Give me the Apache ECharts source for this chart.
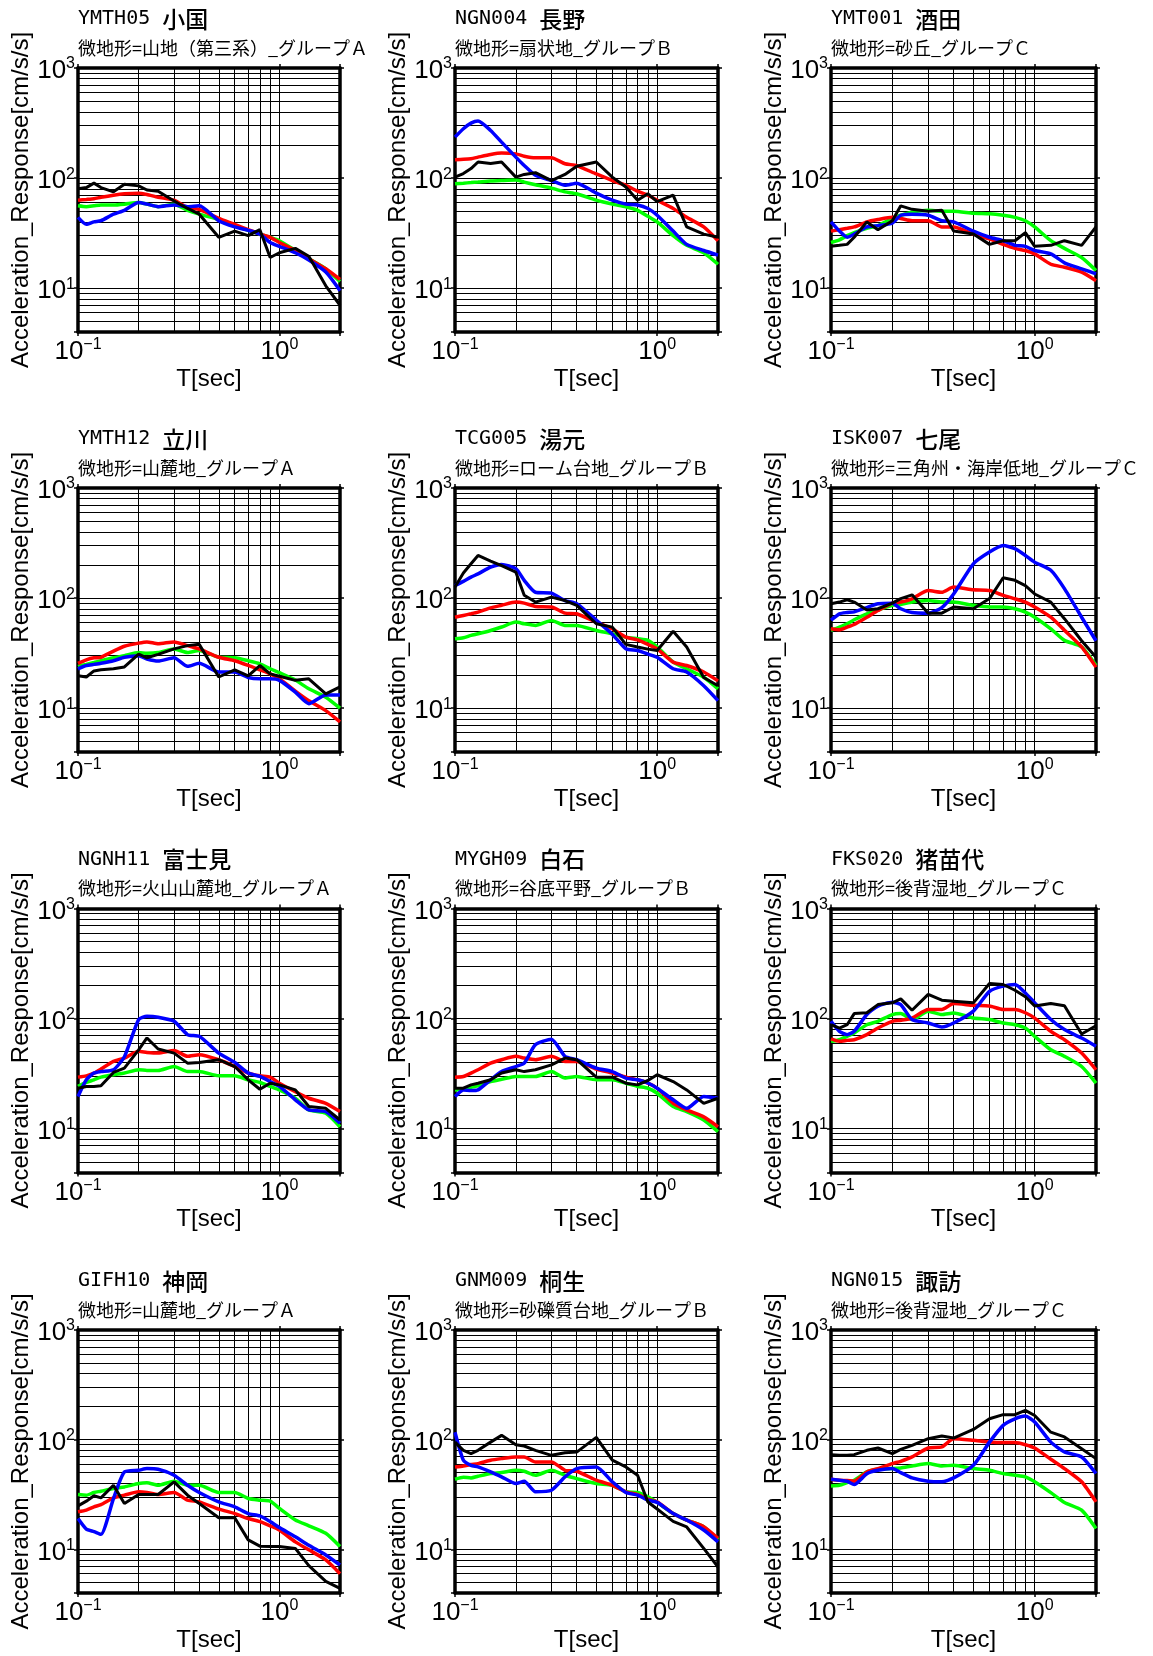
<!DOCTYPE html>
<html>
<head>
<meta charset="utf-8">
<title>Acceleration Response</title>
<script src="https://cdn.jsdelivr.net/npm/echarts@6/dist/echarts.min.js"></script>
<style>
html, body { margin: 0; padding: 0; background: #fff; }
#main { width: 1153px; height: 1656px; }
</style>
</head>
<body>
<div id="main"></div>
<script>
// 周期 T[sec]
var periods = [0.1, 0.11, 0.12, 0.13, 0.15, 0.17, 0.2, 0.22, 0.25, 0.3, 0.35, 0.4, 0.5, 0.6, 0.7, 0.8, 0.9, 1.0, 1.2, 1.4, 1.7, 2.0];

// 目盛・グリッド
var xTickValues = [0.1, 1];
var yTickValues = [10, 100, 1000];
var xGridValues = [0.2, 0.3, 0.4, 0.5, 0.6, 0.7, 0.8, 0.9, 1];
var yGridValues = [5, 6, 7, 8, 9, 10, 20, 30, 40, 50, 60, 70, 80, 90, 100, 200, 300, 400, 500, 600, 700, 800, 900];

// 観測点
var stationCodes = ['YMTH05', 'NGN004', 'YMT001', 'YMTH12', 'TCG005', 'ISK007', 'NGNH11', 'MYGH09', 'FKS020', 'GIFH10', 'GNM009', 'NGN015'];
var stationNames = ['小国', '長野', '酒田', '立川', '湯元', '七尾', '富士見', '白石', '猪苗代', '神岡', '桐生', '諏訪'];
var landforms = [
    '微地形=山地（第三系）_グループＡ', '微地形=扇状地_グループＢ', '微地形=砂丘_グループＣ',
    '微地形=山麓地_グループＡ', '微地形=ローム台地_グループＢ', '微地形=三角州・海岸低地_グループＣ',
    '微地形=火山山麓地_グループＡ', '微地形=谷底平野_グループＢ', '微地形=後背湿地_グループＣ',
    '微地形=山麓地_グループＡ', '微地形=砂礫質台地_グループＢ', '微地形=後背湿地_グループＣ'
];

// 加速度応答 [cm/s/s]
var ymth05Black = [80, 82, 90, 82, 75, 88, 85, 78, 76, 62, 53, 47, 29, 33, 30, 34, 19, 21, 23, 19.5, 10.5, 7];
var ymth05Blue = [44, 38, 40, 41, 47, 51, 60, 58, 55, 57, 55, 56, 41, 36, 33.5, 31, 26, 24, 21, 18, 14, 9.5];
var ymth05Green = [56, 55, 56, 57, 57, 58, 60, 58, 55, 58, 51, 47, 42, 37, 33.5, 31, 29, 27, 22, 18.5, 15, 11.5];
var ymth05Red = [63, 64, 65, 67, 70, 72, 73, 71, 67, 63, 54, 52, 43, 38, 34, 31, 29, 26, 22, 18.5, 15, 12];

var ngn004Black = [102, 110, 122, 140, 136, 140, 102, 108, 112, 95, 108, 128, 140, 102, 83, 63, 72, 61, 70, 36, 31, 29];
var ngn004Blue = [236, 281, 316, 330, 271, 212, 155, 130, 106, 95, 86, 90, 73, 63, 58, 57, 53, 46, 33, 25, 22, 20];
var ngn004Green = [89, 90, 91, 92, 94, 95, 96, 92, 87, 81, 75, 72, 63, 58, 55, 51, 45, 40, 30, 24.5, 21, 16.5];
var ngn004Red = [147, 148, 150, 155, 164, 169, 166, 158, 153, 153, 135, 130, 109, 95, 86, 76, 70, 63, 53, 44, 36, 27];

var ymt001Black = [24, 24.5, 25, 29, 40, 34, 41, 56, 52, 50, 51, 33, 31, 25, 27, 27, 32, 24, 24.5, 27, 24.5, 36];
var ymt001Blue = [40, 33, 29, 31, 36, 37, 39, 46, 47, 46, 41, 40, 33, 29, 27, 24.5, 24, 22, 20.5, 17, 15, 13.5];
var ymt001Green = [26, 27.5, 30, 32, 35, 37, 43, 46, 49, 51, 50, 50, 48, 47.5, 46, 44, 41, 36, 27, 23, 19, 14.5];
var ymt001Red = [33, 34, 35, 36, 40, 42, 44, 43, 41, 41, 36, 36, 31, 28, 25, 23, 22, 20.5, 16.5, 15.5, 14, 11.7];

var ymth12Black = [19.7, 19.2, 21.8, 22.3, 22.8, 23.7, 31, 28.7, 30.8, 34.6, 37, 38, 19.2, 22.3, 19.7, 24.4, 20.5, 19.5, 17.9, 18.5, 13.5, 15.6];
var ymth12Blue = [22.8, 24.4, 25, 25.6, 27, 29, 30, 28, 26.8, 28.7, 24, 25.6, 21.3, 21.3, 19, 18.5, 18.5, 17.9, 14, 11, 13.2, 13.2];
var ymth12Green = [24, 25, 26, 27, 28.7, 30, 32, 31.5, 32, 34.5, 32, 33.4, 29, 28.7, 27, 25.3, 22.8, 21, 18, 15, 12.6, 10];
var ymth12Red = [25.5, 27.5, 28.7, 29, 33, 36.5, 39, 40, 38.5, 40, 37, 34.5, 29, 27, 24.5, 22.3, 20.5, 18.5, 14.3, 11.7, 9.5, 7.5];

var tcg005Black = [126, 169, 205, 244, 217, 197, 172, 106, 92, 102, 95, 86, 58.5, 54.5, 38, 36, 34.4, 33.4, 50, 36, 19, 16];
var tcg005Blue = [130, 142, 155, 166, 191, 202, 185, 145, 113, 111, 95, 89, 63, 47, 34.6, 33.4, 31, 29, 22.8, 21.3, 16, 11.7];
var tcg005Green = [42.7, 43.6, 45.8, 47.4, 50.8, 54.6, 60.5, 58.5, 56.5, 62.7, 56.5, 56.5, 50.8, 47.4, 44.2, 42.7, 41.3, 36, 26.2, 22.8, 19.1, 15];
var tcg005Red = [67, 69.6, 72, 74.6, 81.6, 86, 92, 90, 84, 83, 73, 72, 60.5, 52.6, 44.2, 41.8, 38, 34.6, 26.2, 24.4, 21.3, 17.7];

var isk007Black = [89, 92, 96.6, 92, 78, 80, 90, 99, 107, 73, 73, 83, 80, 99, 153, 145, 130, 109, 92, 65, 41, 29];
var isk007Blue = [63, 72, 74, 75, 82, 89, 90, 80, 74, 73, 82, 109, 205, 262, 300, 281, 244, 212, 179, 122, 67, 41];
var isk007Green = [51, 54.6, 58.5, 63.5, 72, 78, 86, 87.5, 92, 95, 92, 92, 86, 83, 83, 80, 74.6, 67, 52.6, 41.3, 36, 24.4];
var isk007Red = [52.6, 51.6, 54.6, 57.6, 67, 77, 90, 92, 98.6, 117, 113, 126, 119, 117, 106, 98.6, 92, 83, 67, 51, 36, 23.6];

var ngnh11Black = [23.3, 24.2, 24.2, 24.5, 32.4, 35.5, 52, 66.7, 53, 48.6, 39.4, 40, 42.3, 36.7, 27.8, 22.8, 25.9, 25, 22.5, 15.9, 15.3, 12];
var ngnh11Blue = [19.6, 27.8, 32, 33, 34.3, 45, 98, 105, 103, 94.5, 71.5, 69, 48.6, 40, 32, 29.8, 26.8, 24.2, 18.3, 14.8, 14.3, 11.2];
var ngnh11Green = [24.2, 26.3, 27.8, 29.4, 30.9, 32, 34.3, 33.8, 33.8, 36.7, 33.1, 33.1, 30.2, 30.2, 27.8, 26.3, 24.2, 22.5, 18.9, 14.8, 13.8, 10.4];
var ngnh11Red = [29.4, 30.2, 32, 34.8, 40.8, 43.8, 50.4, 49.3, 48.6, 51.4, 45.4, 47, 42.3, 36.7, 32, 30.2, 29.4, 25.9, 21.7, 18.9, 17, 14.3];

var mygh09Black = [23.3, 23.3, 25, 25.9, 27.8, 32, 34.3, 33, 34.3, 38, 43.8, 42.3, 29.4, 29.4, 25.9, 25, 27.4, 30.9, 26.8, 22.5, 17, 18.9];
var mygh09Blue = [19.6, 22.5, 22.2, 22.5, 27.8, 33, 36.7, 39.4, 58, 65, 45.4, 42.3, 35.5, 33, 28.8, 27.8, 26, 23.3, 18.3, 15.3, 19.6, 18.9];
var mygh09Green = [22.5, 22.8, 23.8, 24.5, 26.8, 28.1, 29.8, 29.8, 29.8, 33, 28.8, 29.8, 27.8, 27.8, 25.9, 24.2, 23.3, 21, 15.9, 14.3, 12, 9.4];
var mygh09Red = [29.4, 29.8, 32, 34.3, 39.4, 42.3, 45.4, 43.8, 42.3, 45.4, 40.8, 40.8, 34.8, 32, 29.4, 27.8, 25.9, 23.3, 17, 14.8, 12.8, 10.4];

var fks020Black = [88, 82, 88, 111, 113, 134, 139, 151, 119, 166, 147, 144, 139, 208, 204, 181, 158, 130, 137, 131, 72.5, 86];
var fks020Blue = [94.5, 76.6, 71.5, 76.6, 109, 130, 141, 134, 98, 91.3, 84, 91.3, 117, 177, 197, 204, 171, 139, 98, 79.4, 66.6, 56];
var fks020Green = [62.1, 64.3, 69, 74, 88, 94.5, 108.8, 111, 98, 116.7, 108.8, 112.6, 101.4, 98, 91.3, 88, 82.2, 69, 52.1, 45.4, 36.7, 25.9];
var fks020Red = [65.3, 62.1, 63.4, 64.3, 71.5, 82.2, 94.5, 96.6, 101, 121, 121, 137, 132, 130, 121, 121, 113, 101, 76.6, 64.3, 48.6, 34.3];

var gifh10Black = [24.9, 27.5, 30.8, 29.5, 38.4, 26.2, 31.6, 31.6, 31.6, 41.2, 31.2, 26.2, 19.4, 19.4, 12.2, 10.7, 10.6, 10.6, 10.2, 7.1, 5.1, 4.4];
var gifh10Blue = [19.1, 15.3, 14.5, 13.7, 29, 50.8, 52.6, 54.5, 53.7, 47.4, 38.4, 33, 27.1, 24.4, 21.2, 20.2, 17.9, 15.8, 13, 10.9, 8.9, 7.2];
var gifh10Green = [31.6, 31.2, 33, 33.9, 35.9, 37.1, 39.8, 40.4, 38.4, 41.8, 38.4, 38.4, 33, 33, 29.1, 28.1, 27.5, 23.6, 18.5, 16.4, 14, 10.6];
var gifh10Red = [22, 22.8, 24.4, 25.6, 29.5, 31.2, 33.5, 33, 31.6, 33, 28.1, 27.1, 23.3, 21.2, 19.1, 17.9, 16.4, 15, 11.7, 9.9, 8, 6];

var gnm009Black = [95, 80, 74.6, 80, 95, 109.5, 90, 87.6, 80, 72, 76, 77, 105, 65, 56.4, 47.4, 27, 23.3, 18, 16, 10.2, 6.9];
var gnm009Blue = [117, 65, 58.4, 56.4, 50.8, 45.8, 39.8, 41.8, 33.5, 34.6, 45.8, 54.5, 56.4, 41.3, 33, 31.2, 28.1, 26.8, 21.2, 18.5, 15, 11.7];
var gnm009Green = [43.6, 45.5, 44.8, 46.4, 49.1, 50.1, 52.6, 51.5, 47.4, 52.6, 47.4, 44.2, 39.8, 38.4, 33.5, 33, 30.1, 26.8, 21.2, 18.5, 16.1, 12.2];
var gnm009Red = [56.4, 57.6, 59.3, 60.5, 64.9, 67.2, 69.6, 69.6, 62.7, 62.7, 52.6, 51.5, 42.7, 38.4, 33.5, 31.6, 28.7, 27.1, 21.2, 18.5, 16.1, 12.6];

var ngn015Black = [73, 72, 72, 73, 80, 84, 74.6, 81.7, 88.8, 102, 108, 103.5, 124, 155, 169, 169, 185, 166, 117, 106, 82.8, 67.2];
var ngn015Blue = [43.6, 42.7, 41.8, 39, 49, 52.6, 54.5, 50.1, 44.8, 41.8, 41.3, 44.8, 58.4, 95, 135, 155, 164, 145, 95, 77.3, 69.6, 49.1];
var ngn015Green = [37.9, 38.4, 40.6, 42.7, 50.8, 53.7, 54.5, 55.3, 57.6, 60.5, 57.6, 58.4, 54.5, 52.6, 49.1, 47.4, 45.8, 41.3, 32.9, 26.8, 22.8, 15.5];
var ngn015Red = [43.6, 42.7, 42.4, 41.8, 50.8, 54.5, 60.5, 63.5, 69.6, 84, 85.8, 102, 98.6, 95.2, 94, 94, 90, 84, 66.3, 54.5, 41.3, 27.1];

var panels = [
    {green: ymth05Green, red: ymth05Red, blue: ymth05Blue, black: ymth05Black},
    {green: ngn004Green, red: ngn004Red, blue: ngn004Blue, black: ngn004Black},
    {green: ymt001Green, red: ymt001Red, blue: ymt001Blue, black: ymt001Black},
    {green: ymth12Green, red: ymth12Red, blue: ymth12Blue, black: ymth12Black},
    {green: tcg005Green, red: tcg005Red, blue: tcg005Blue, black: tcg005Black},
    {green: isk007Green, red: isk007Red, blue: isk007Blue, black: isk007Black},
    {green: ngnh11Green, red: ngnh11Red, blue: ngnh11Blue, black: ngnh11Black},
    {green: mygh09Green, red: mygh09Red, blue: mygh09Blue, black: mygh09Black},
    {green: fks020Green, red: fks020Red, blue: fks020Blue, black: fks020Black},
    {green: gifh10Green, red: gifh10Red, blue: gifh10Blue, black: gifh10Black},
    {green: gnm009Green, red: gnm009Red, blue: gnm009Blue, black: gnm009Black},
    {green: ngn015Green, red: ngn015Red, blue: ngn015Blue, black: ngn015Black}
];

var lineColors = {green: '#00ff00', red: '#ff0000', blue: '#0000ff', black: '#000000'};
var drawOrder = ['green', 'red', 'blue', 'black'];

var colLeft = [78, 455, 831];
var colWidth = [262, 263, 265];
var rowTop = [68, 488, 908.5, 1330];
var rowHeight = [264, 264, 264, 263];

var axisFont = "'Liberation Sans', Arial, sans-serif";
var labelRich = {
    b: {fontFamily: axisFont, fontSize: 26, lineHeight: 30, color: '#000'},
    s: {fontFamily: axisFont, fontSize: 16, lineHeight: 14, verticalAlign: 'top', color: '#000'}
};

/* 10のべき乗だけラベルを出す */
function powLabel(v) {
    var lg = Math.log(v) / Math.LN10;
    var e = Math.round(lg);
    if (Math.abs(lg - e) > 1e-6) return '';
    return '{b|10}{s|' + (e < 0 ? '\u2212' + (-e) : e) + '}';
}

function pairs(values) {
    return periods.map(function (t, k) { return [t, values[k]]; });
}

var grids = [], xAxes = [], yAxes = [], series = [], titles = [];

panels.forEach(function (p, i) {
    var r = Math.floor(i / 3), c = i % 3;
    var left = colLeft[c], top = rowTop[r];
    grids.push({left: left, top: top, width: colWidth[c], height: rowHeight[r], containLabel: false});

    titles.push({
        text: '{c|' + stationCodes[i] + ' }{j|' + stationNames[i] + '}',
        left: left, top: top - 62, padding: 0,
        textStyle: {
            fontWeight: 'normal',
            rich: {
                c: {fontFamily: "'DejaVu Sans Mono', monospace", fontSize: 20, fontWeight: 'normal', lineHeight: 26, color: '#000'},
                j: {fontFamily: "'Noto Sans CJK JP', sans-serif", fontSize: 23, fontWeight: 500, lineHeight: 26, color: '#000'}
            }
        }
    });
    titles.push({
        text: landforms[i],
        left: left, top: top - 30, padding: 0,
        textStyle: {fontFamily: "'Noto Sans CJK JP', sans-serif", fontSize: 18, lineHeight: 20, fontWeight: 'normal', color: '#000'}
    });

    var frame = {show: true, onZero: false, lineStyle: {color: '#000', width: 3.5}};
    var tick = {show: true, inside: false, length: 4, lineStyle: {color: '#000', width: 1.5}};

    xAxes.push({
        type: 'log', logBase: 10, gridIndex: i, min: 0.1, max: 2, position: 'bottom',
        axisLine: frame, axisTick: tick, splitLine: {show: false},
        axisLabel: {interval: 0, formatter: powLabel, margin: 5, rich: labelRich, showMinLabel: true, showMaxLabel: true},
        name: 'T[sec]', nameLocation: 'middle', nameGap: 35,
        nameTextStyle: {fontFamily: axisFont, fontSize: 24, color: '#000'}
    });
    xAxes.push({
        type: 'log', logBase: 10, gridIndex: i, min: 0.1, max: 2, position: 'top',
        axisLine: frame, axisTick: tick, splitLine: {show: false}, axisLabel: {show: false}
    });
    yAxes.push({
        type: 'log', logBase: 10, gridIndex: i, min: 4, max: 1000, position: 'left',
        axisLine: frame, axisTick: tick, splitLine: {show: false},
        axisLabel: {interval: 0, formatter: powLabel, margin: 3, padding: [6, 0, 0, 0], rich: labelRich, showMinLabel: true, showMaxLabel: true},
        name: 'Acceleration_Response[cm/s/s]', nameLocation: 'middle', nameGap: 43,
        nameTextStyle: {fontFamily: axisFont, fontSize: 24, color: '#000'}
    });
    yAxes.push({
        type: 'log', logBase: 10, gridIndex: i, min: 4, max: 1000, position: 'right',
        axisLine: frame, axisTick: tick, splitLine: {show: false}, axisLabel: {show: false}
    });

    // グリッド線
    var gl = xGridValues.map(function (v) { return {xAxis: v}; })
        .concat(yGridValues.map(function (v) { return {yAxis: v}; }));
    series.push({
        type: 'line', xAxisIndex: i * 2, yAxisIndex: i * 2, silent: true,
        data: [[0.1, 1000]], showSymbol: false, lineStyle: {width: 0},
        markLine: {
            silent: true, symbol: 'none', z: 1, animation: false,
            label: {show: false},
            lineStyle: {color: '#000', width: 1, type: 'solid'},
            emphasis: {disabled: true},
            data: gl
        }
    });

    drawOrder.forEach(function (key) {
        series.push({
            type: 'line', xAxisIndex: i * 2, yAxisIndex: i * 2,
            data: pairs(p[key]), showSymbol: false, silent: true,
            smooth: key === 'black' ? false : 0.2,
            lineStyle: {color: lineColors[key], width: key === 'black' ? 3 : 3.5},
            z: 3
        });
    });
});

var myChart = echarts.init(document.getElementById('main'));
myChart.setOption({
    animation: false,
    backgroundColor: '#fff',
    title: titles,
    grid: grids,
    xAxis: xAxes,
    yAxis: yAxes,
    series: series
});
</script>
</body>
</html>
